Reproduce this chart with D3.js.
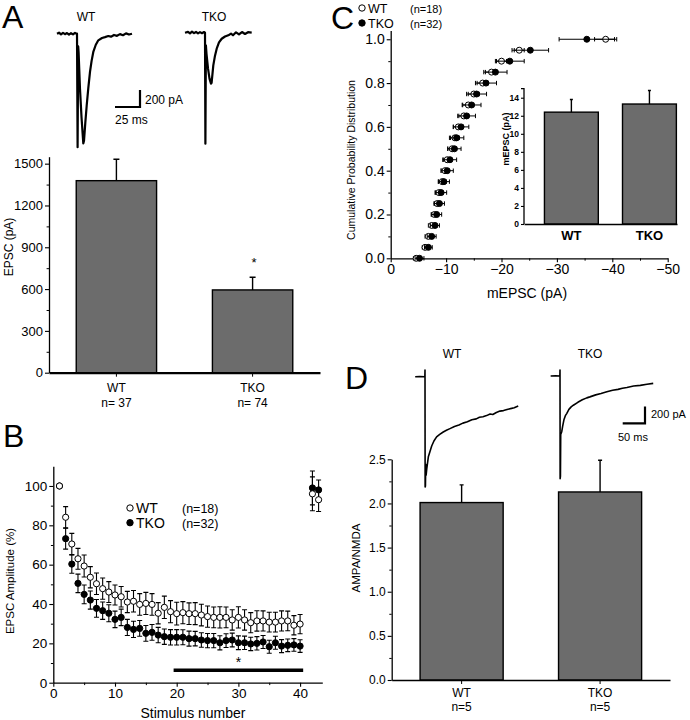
<!DOCTYPE html>
<html>
<head>
<meta charset="utf-8">
<script src="https://cdn.jsdelivr.net/npm/d3@7"></script>
<style>
  body { margin: 0; background: #fff; }
  svg { display: block; font-family: "Liberation Sans", Arial, sans-serif; }
</style>
</head>
<body>
<svg id="fig" width="690" height="720"></svg>
<script>
// ---------------- data ----------------
const groups = ["WT", "TKO"];

// A: evoked EPSC amplitude
const epscN = ["n= 37", "n= 74"];
const epscMean = [1378, 594];
const epscErr = [154, 91];

// A: example traces [ms, pA]
const traceA_WT = [[-20,0],[-18,12],[-16,-8],[-14,10],[-12,-6],[-10,8],[-8,-10],[-6,6],[-4,-8],[-2,10],[-0.5,0],
  [0,0],[0.6,-1335],[1.2,-150],[1.6,-220],[3,-650],[4.5,-980],[6.3,-1290],[7,-1260],[8.3,-1050],[9.7,-845],
  [11.3,-640],[13,-450],[14.6,-320],[16.3,-215],[18.8,-130],[21.3,-78],[25,-50],[28,-40],[31.3,-27],[34,-35],
  [37,-15],[40,-25],[43,-5],[46,-18],[49,4],[52,-10],[55,0]];
const traceA_TKO = [[-20,0],[-17,10],[-15,-8],[-13,12],[-11,-5],[-9,9],[-7,-8],[-5,7],[-3,-6],[-1,8],[0,0],
  [0.4,-1306],[0.9,-150],[1.5,-250],[3,-420],[4.5,-540],[6,-600],[6.6,-590],[8.3,-384],[10,-270],[11.7,-188],
  [14,-115],[16.7,-71],[20,-45],[23.3,-31],[26,-10],[28,-30],[31,5],[34,-20],[37,8],[40,-15],[43,6],[46.7,0]];

// B: train of 40 stimuli + 2 recovery pulses
const stimNum = [1,2,3,4,5,6,7,8,9,10,11,12,13,14,15,16,17,18,19,20,21,22,23,24,25,26,27,28,29,30,
  31,32,33,34,35,36,37,38,39,40,42,43];
const trainWT = [100,84.1,70.5,63,59.3,53.6,50.3,47.8,46.1,44.6,43.7,41,41.4,39.8,40.3,39.8,35.3,38.3,36.1,35.1,
  35.6,35.1,35.1,34.4,33.6,33.2,33.2,33.2,31.9,33.2,31.9,30.5,31.4,31.4,30.8,30.8,31.4,31.4,29.2,29.8,96,93];
const trainWTErr = [0,5.4,5.4,5.3,5.6,5.4,5.5,5.4,5.3,5.1,5.2,5.4,5.5,5.5,5.6,5.5,5.4,5.7,5.6,5.8,
  5.6,5.5,5.6,5.5,5.4,5.3,5.4,5.3,5.2,5.4,5.2,5.1,5.2,5.1,5.0,5.0,5.1,5.0,4.9,4.9,8.6,6];
const trainTKO = [100,73.2,60.3,50.5,44.9,42,37.8,36.6,35.3,32.2,33.2,28.1,27.1,27.6,25.1,25.6,24.2,23.4,23.1,23.1,
  23.1,22.4,22.4,21.7,21.4,21.4,20.3,21.4,21.7,20.3,20.3,19.7,20,20.7,18.3,20.3,18.6,19,19.2,18.6,99,98];
const trainTKOErr = [0,5.3,4.7,4.7,4.8,4.6,4.5,4.4,4.3,4.2,4.2,4.1,4.1,4.0,4.0,4.0,3.9,3.9,3.9,3.9,
  3.8,3.8,3.7,3.7,3.6,3.6,3.6,3.5,3.5,3.5,3.4,3.4,3.4,3.3,3.3,3.3,3.3,3.2,3.2,3.2,8.6,5];
const sigRange = [19.5, 40.5];

// C: cumulative distribution of mEPSC amplitude
const cumProb = [0,0.05,0.1,0.15,0.2,0.25,0.3,0.35,0.4,0.45,0.5,0.55,0.6,0.65,0.7,0.75,0.8,0.85,0.9,0.95,1.0];
const cumWT = [-4.6,-6.2,-6.8,-7.4,-7.9,-8.4,-8.7,-9.3,-9.8,-10.2,-11.1,-11.6,-12.2,-13.2,-14.0,-15.0,-16.6,-18.2,-20.0,-23.2,-38.8];
const cumWTErr = [0.5,0.5,0.6,0.6,0.6,0.6,0.7,0.7,0.7,0.8,0.8,0.8,0.9,0.9,1.0,1.0,1.0,1.1,0.9,0.9,2.0];
const cumTKO = [-5.2,-6.8,-7.4,-8.0,-8.3,-8.8,-9.1,-9.6,-10.2,-10.7,-11.5,-11.9,-12.7,-13.7,-14.6,-15.5,-17.2,-18.9,-21.5,-25.2,-35.4];
const cumTKOErr = [0.8,0.7,0.8,0.8,0.9,0.9,1.0,1.0,1.1,1.2,1.2,1.3,1.4,1.6,1.7,1.8,1.9,2.1,2.6,3.3,5.0];

// C inset: mean mEPSC amplitude
const mepscMean = [12.4, 13.3];
const mepscErr = [1.4, 1.5];

// D: AMPA/NMDA ratio
const ratioN = ["n=5", "n=5"];
const ratioMean = [2.01, 2.13];
const ratioErr = [0.2, 0.36];

// D: example traces [ms, pA]
const traceD_WT = [[-22,0],[-12,3],[-0.3,0],[0,80],[0.3,-1320],[1,-1310],[1.6,-1050],[2.5,-1180],[4,-1100],
  [7.5,-960],[11,-900],[15,-830],[20,-770],[26,-720],[33,-690],[40,-665],[48,-642],[56,-622],[66,-596],[76,-578],
  [85,-556],[95,-540],[105,-515],[115,-505],[122,-486],[130,-480],[138,-466],[146,-446],[152,-452],[160,-428],
  [168,-412],[176,-406],[184,-394],[192,-382],[200,-372],[209,-352]];
const traceD_TKO = [[-21,0],[-10,2],[-0.3,0],[0,72],[0.3,-1230],[1,-1200],[1.6,-700],[3,-680],[3.8,-670],
  [6,-600],[9,-520],[12,-475],[15,-450],[20,-400],[25,-370],[30,-350],[40,-315],[50,-285],[60,-262],[67,-250],
  [80,-226],[92,-210],[105,-189],[118,-170],[130,-160],[140,-146],[150,-137],[165,-120],[180,-112],[195,-98],[209,-88]];

// ---------------- helpers ----------------
const svg = d3.select("#fig");
const FONT = '"Liberation Sans", Arial, sans-serif';
const BAR_FILL = "#6c6c6c";

svg.append("rect").attr("width", 690).attr("height", 720).attr("fill", "#fff");

function axis(g, axisFn, scale, major, minor, fmt, fs, tickLen = 4) {
  if (minor) {
    g.append("g").call(axisFn(scale).tickValues(minor).tickFormat("").tickSize(tickLen * 0.6).tickSizeOuter(0))
      .select(".domain").remove();
  }
  const a = g.append("g").call(axisFn(scale).tickValues(major).tickFormat(fmt).tickSize(tickLen).tickSizeOuter(0).tickPadding(2))
    .attr("font-family", FONT).attr("font-size", fs);
  a.select(".domain").attr("stroke-width", 1.3);
  a.selectAll(".tick line").attr("stroke-width", 1.1);
  return a;
}

function panelLetter(x, y, s) {
  svg.append("text").attr("x", x).attr("y", y).attr("font-size", 32).text(s);
}

function yLabel(x, y, s, fs, weight) {
  svg.append("text").attr("transform", `translate(${x},${y}) rotate(-90)`)
    .attr("text-anchor", "middle").attr("font-size", fs).attr("font-weight", weight || "normal").text(s);
}

function drawTrace(data, x, y, w) {
  const line = d3.line().x(d => x(d[0])).y(d => y(d[1]));
  svg.append("path").datum(data).attr("d", line).attr("fill", "none")
    .attr("stroke", "#000").attr("stroke-width", w).attr("stroke-linejoin", "round");
}

function scaleBar(cx, cy, wpx, hpx, lab1, lab2, lx1, ly1, lx2, ly2, fs) {
  svg.append("path").attr("d", `M${cx - wpx},${cy}H${cx}V${cy - hpx}`)
    .attr("fill", "none").attr("stroke", "#000").attr("stroke-width", 2.2);
  svg.append("text").attr("x", lx1).attr("y", ly1).attr("font-size", fs).text(lab1);
  svg.append("text").attr("x", lx2).attr("y", ly2).attr("font-size", fs).text(lab2);
}

function barChart(g, x, y, means, errs, capW) {
  g.selectAll("rect.bar").data(means).join("rect").attr("class", "bar")
    .attr("x", (d, i) => x(groups[i])).attr("width", x.bandwidth())
    .attr("y", d => y(d)).attr("height", d => y(0) - y(d))
    .attr("fill", BAR_FILL).attr("stroke", "#000").attr("stroke-width", 1.4);
  g.selectAll("path.err").data(means).join("path").attr("class", "err")
    .attr("d", (d, i) => {
      const cx = x(groups[i]) + x.bandwidth() / 2;
      return `M${cx},${y(d)}V${y(d + errs[i])}M${cx - capW / 2},${y(d + errs[i])}H${cx + capW / 2}`;
    })
    .attr("stroke", "#000").attr("stroke-width", 1.4).attr("fill", "none");
}

// ---------------- Panel A ----------------
panelLetter(2, 28, "A");
svg.append("text").attr("x", 86).attr("y", 21).attr("font-size", 12).attr("text-anchor", "middle").text("WT");
svg.append("text").attr("x", 214).attr("y", 21).attr("font-size", 12).attr("text-anchor", "middle").text("TKO");

const xTaW = d3.scaleLinear().domain([0, 1]).range([77, 78]);
const yTaW = d3.scaleLinear().domain([0, -200]).range([33.7, 50.7]);
drawTrace(traceA_WT, xTaW, yTaW, 2.2);
const xTaK = d3.scaleLinear().domain([0, 1]).range([205, 206]);
const yTaK = d3.scaleLinear().domain([0, -200]).range([32.7, 49.7]);
drawTrace(traceA_TKO, xTaK, yTaK, 2.2);
scaleBar(140, 107, xTaW(25) - xTaW(0), yTaW(-200) - yTaW(0), "200 pA", "25 ms", 145, 104, 115, 124, 12);

const gA = svg.append("g");
const xA = d3.scaleBand().domain(groups).range([49, 320]).paddingInner(0.41).paddingOuter(0.2);
const yA = d3.scaleLinear().domain([0, 1550]).range([372.7, 156.7]);
barChart(gA, xA, yA, epscMean, epscErr, 6);
axis(gA.append("g").attr("transform", "translate(49,0)"), d3.axisLeft, yA,
  [0, 300, 600, 900, 1200, 1500], [150, 450, 750, 1050, 1350], d3.format("d"), 13);
const axA = gA.append("g").attr("transform", "translate(0,372.7)")
  .call(d3.axisBottom(xA).tickFormat("").tickSize(4).tickSizeOuter(0));
axA.select(".domain").attr("stroke-width", 2.2);
groups.forEach((gname, i) => {
  const cx = xA(gname) + xA.bandwidth() / 2;
  gA.append("text").attr("x", cx).attr("y", 391.5).attr("text-anchor", "middle").attr("font-size", 12).text(gname);
  gA.append("text").attr("x", cx).attr("y", 406.5).attr("text-anchor", "middle").attr("font-size", 12).text(epscN[i]);
});
gA.append("text").attr("x", 254).attr("y", 267).attr("text-anchor", "middle").attr("font-size", 13).text("*");
yLabel(13, 247, "EPSC (pA)", 12);

// ---------------- Panel B ----------------
panelLetter(3, 447, "B");
const gB = svg.append("g");
const xB = d3.scaleLinear().domain([0, 43.6]).range([53.3, 322.3]);
const yB = d3.scaleLinear().domain([0, 110]).range([682.7, 466.3]);
axis(gB.append("g").attr("transform", "translate(53.3,0)"), d3.axisLeft, yB,
  [0, 20, 40, 60, 80, 100], [10, 30, 50, 70, 90], d3.format("d"), 13.5);
axis(gB.append("g").attr("transform", "translate(0,682.7)"), d3.axisBottom, xB,
  [0, 10, 20, 30, 40], [5, 15, 25, 35], d3.format("d"), 13.5);
yLabel(14, 581, "EPSC Amplitude (%)", 11.5);
svg.append("text").attr("x", 193).attr("y", 718).attr("text-anchor", "middle").attr("font-size", 14).text("Stimulus number");

function trainSeries(vals, errs, filled) {
  const pts = stimNum.map((n, i) => ({ n, v: vals[i], e: errs[i] }));
  gB.append("g").selectAll("path").data(pts.filter(d => d.e > 0)).join("path")
    .attr("d", d => {
      const cx = xB(d.n);
      const y1 = yB(d.v - d.e), y2 = yB(d.v + d.e);
      return `M${cx},${y1}V${y2}M${cx - 2.5},${y1}H${cx + 2.5}M${cx - 2.5},${y2}H${cx + 2.5}`;
    })
    .attr("stroke", "#000").attr("stroke-width", 1.1).attr("fill", "none");
  gB.append("g").selectAll("circle").data(pts).join("circle")
    .attr("cx", d => xB(d.n)).attr("cy", d => yB(d.v)).attr("r", 3.1)
    .attr("fill", filled ? "#000" : "#fff").attr("stroke", "#000").attr("stroke-width", 1);
}
trainSeries(trainTKO, trainTKOErr, true);
trainSeries(trainWT, trainWTErr, false);

gB.append("line").attr("x1", xB(sigRange[0])).attr("x2", xB(sigRange[1]))
  .attr("y1", yB(6.3)).attr("y2", yB(6.3)).attr("stroke", "#000").attr("stroke-width", 3.5);
gB.append("text").attr("x", xB(30)).attr("y", yB(8)).attr("text-anchor", "middle").attr("font-size", 14).text("*");

function legend(x, y, filled, name, n, nx, fs) {
  svg.append("circle").attr("cx", x).attr("cy", y).attr("r", 3.2)
    .attr("fill", filled ? "#000" : "#fff").attr("stroke", "#000").attr("stroke-width", 1);
  svg.append("text").attr("x", x + 6).attr("y", y + 5).attr("font-size", fs || 14).text(name);
  svg.append("text").attr("x", nx).attr("y", y + 5).attr("font-size", (fs || 14) - 1.5).text(n);
}
legend(130, 508, false, "WT", "(n=18)", 182);
legend(130, 522.7, true, "TKO", "(n=32)", 182);

// ---------------- Panel C ----------------
panelLetter(331, 29, "C");
legend(362, 8, false, "WT", "(n=18)", 410, 12.5);
legend(362, 23, true, "TKO", "(n=32)", 410, 12.5);

const gC = svg.append("g");
const xC = d3.scaleLinear().domain([0, -50]).range([390.7, 667.7]);
const yC = d3.scaleLinear().domain([0, 1.04]).range([258.3, 30.5]);
axis(gC.append("g").attr("transform", "translate(390.7,0)"), d3.axisLeft, yC,
  [0, 0.2, 0.4, 0.6, 0.8, 1.0], [0.1, 0.3, 0.5, 0.7, 0.9], d3.format(".1f"), 14);
axis(gC.append("g").attr("transform", "translate(0,258.3)"), d3.axisBottom, xC,
  [0, -10, -20, -30, -40, -50], [-5, -15, -25, -35, -45], d3.format("d"), 14);
yLabel(355, 160, "Cumulative Probability Distribution", 10.5);
svg.append("text").attr("x", 527).attr("y", 298).attr("text-anchor", "middle").attr("font-size", 14).text("mEPSC (pA)");

function cumSeries(vals, errs, filled) {
  const pts = cumProb.map((p, i) => ({ p, v: vals[i], e: errs[i] }));
  gC.append("g").selectAll("path").data(pts).join("path")
    .attr("d", d => {
      const cy = yC(d.p);
      const x1 = xC(d.v + d.e), x2 = xC(d.v - d.e);
      return `M${x1},${cy}H${x2}M${x1},${cy - 2.2}V${cy + 2.2}M${x2},${cy - 2.2}V${cy + 2.2}`;
    })
    .attr("stroke", "#000").attr("stroke-width", 1).attr("fill", "none");
  gC.append("g").selectAll("circle").data(pts).join("circle")
    .attr("cx", d => xC(d.v)).attr("cy", d => yC(d.p)).attr("r", 3)
    .attr("fill", filled ? "#000" : "#fff").attr("stroke", "#000").attr("stroke-width", 1);
}
cumSeries(cumWT, cumWTErr, false);
cumSeries(cumTKO, cumTKOErr, true);

// inset
const gI = svg.append("g");
const xI = d3.scaleBand().domain(groups).range([524, 677]).paddingInner(0.31).paddingOuter(0.135).align(0.97);
const yI = d3.scaleLinear().domain([0, 15]).range([224, 88.7]);
barChart(gI, xI, yI, mepscMean, mepscErr, 3);
const ayI = axis(gI.append("g").attr("transform", "translate(524,0)"), d3.axisLeft, yI,
  [0, 2, 4, 6, 8, 10, 12, 14], null, d3.format("d"), 8.5, 3);
ayI.attr("font-weight", "bold");
ayI.select(".domain").attr("d", `M-3,${yI(15)}H0V${yI(0)}`);
const axI = gI.append("g").attr("transform", "translate(0,224)")
  .call(d3.axisBottom(xI).tickValues([]).tickSizeOuter(0));
axI.select(".domain").attr("stroke-width", 1.6);
groups.forEach(gname => {
  gI.append("text").attr("x", xI(gname) + xI.bandwidth() / 2).attr("y", 240)
    .attr("text-anchor", "middle").attr("font-size", 13).attr("font-weight", "bold").text(gname);
});
yLabel(509, 139, "mEPSC (pA)", 9, "bold");

// ---------------- Panel D ----------------
panelLetter(345, 389, "D");
svg.append("text").attr("x", 452).attr("y", 358).attr("text-anchor", "middle").attr("font-size", 12).text("WT");
svg.append("text").attr("x", 590).attr("y", 358).attr("text-anchor", "middle").attr("font-size", 12).text("TKO");

const xTdW = d3.scaleLinear().domain([0, 50]).range([425, 447.3]);
const yTdW = d3.scaleLinear().domain([0, -200]).range([376.7, 393.4]);
drawTrace(traceD_WT, xTdW, yTdW, 1.6);
const xTdK = d3.scaleLinear().domain([0, 50]).range([560, 582.3]);
const yTdK = d3.scaleLinear().domain([0, -200]).range([376, 392.7]);
drawTrace(traceD_TKO, xTdK, yTdK, 1.6);
scaleBar(645, 423.3, xTdK(50) - xTdK(0), yTdK(-200) - yTdK(0), "200 pA", "50 ms", 651, 418, 618, 441, 11);

const gD = svg.append("g");
const xD = d3.scaleBand().domain(groups).range([391.7, 670]).paddingInner(0.4).paddingOuter(0.205);
const yD = d3.scaleLinear().domain([0, 2.5]).range([680, 459.3]);
barChart(gD, xD, yD, ratioMean, ratioErr, 4);
axis(gD.append("g").attr("transform", "translate(391.7,0)"), d3.axisLeft, yD,
  [0, 0.5, 1.0, 1.5, 2.0, 2.5], [0.25, 0.75, 1.25, 1.75, 2.25], d3.format(".1f"), 12);
gD.append("g").attr("transform", "translate(0,680)")
  .call(d3.axisBottom(xD).tickFormat("").tickSize(4).tickSizeOuter(0))
  .select(".domain").attr("stroke-width", 1.3);
groups.forEach((gname, i) => {
  const cx = xD(gname) + xD.bandwidth() / 2;
  gD.append("text").attr("x", cx).attr("y", 697).attr("text-anchor", "middle").attr("font-size", 12).text(gname);
  gD.append("text").attr("x", cx).attr("y", 711).attr("text-anchor", "middle").attr("font-size", 12).text(ratioN[i]);
});
yLabel(360, 558, "AMPA/NMDA", 11.5);
</script>
</body>
</html>
